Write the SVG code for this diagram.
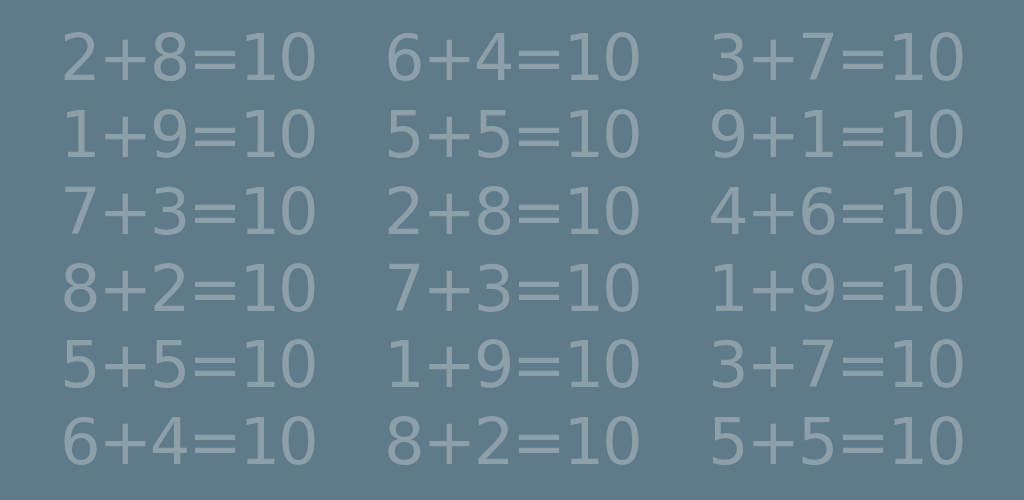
<svg xmlns="http://www.w3.org/2000/svg" width="1024" height="500" viewBox="0 0 1024 500">
<style>
text{font-family:"DejaVu Sans",sans-serif;font-size:64px;letter-spacing:-2.3px;fill:#8d9fa9}
</style>
<rect width="1024" height="500" fill="#5f7a89"/>
<g id="col1">
<text x="60" y="80">2+8=10</text>
<text x="60" y="157">1+9=10</text>
<text x="60" y="234">7+3=10</text>
<text x="60" y="311">8+2=10</text>
<text x="60" y="387">5+5=10</text>
<text x="60" y="464">6+4=10</text>
</g>
<g id="col2">
<text x="384" y="80">6+4=10</text>
<text x="384" y="157">5+5=10</text>
<text x="384" y="234">2+8=10</text>
<text x="384" y="311">7+3=10</text>
<text x="384" y="387">1+9=10</text>
<text x="384" y="464">8+2=10</text>
</g>
<g id="col3">
<text x="708" y="80">3+7=10</text>
<text x="708" y="157">9+1=10</text>
<text x="708" y="234">4+6=10</text>
<text x="708" y="311">1+9=10</text>
<text x="708" y="387">3+7=10</text>
<text x="708" y="464">5+5=10</text>
</g>
</svg>
